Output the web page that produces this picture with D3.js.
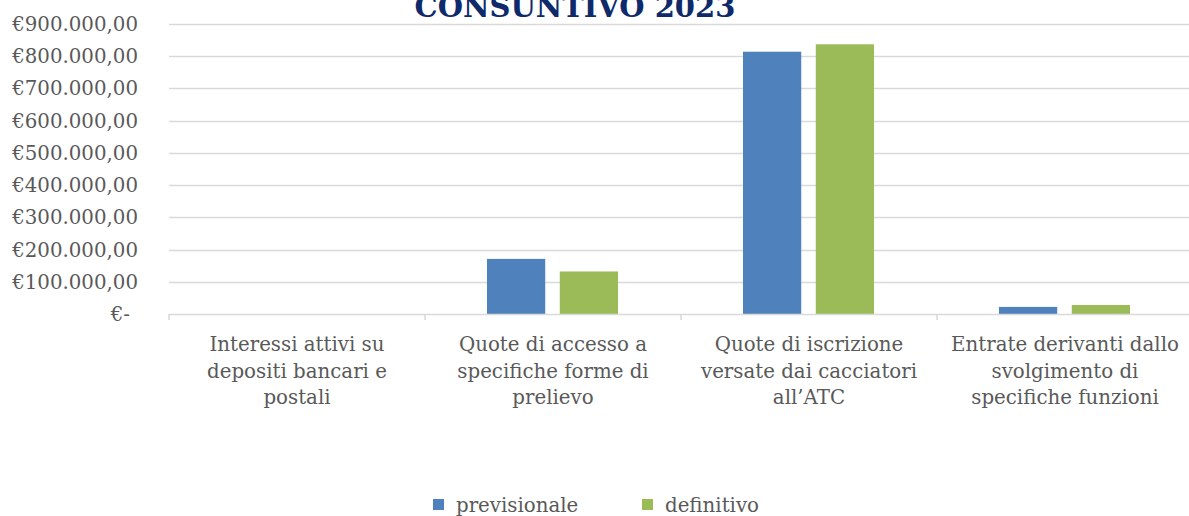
<!DOCTYPE html>
<html>
<head>
<meta charset="utf-8">
<script src="https://cdn.jsdelivr.net/npm/d3@7"></script>
<style>
  body { margin: 0; background: #fff; }
  svg { display: block; }
  text { font-family: "DejaVu Serif", "Liberation Serif", serif; }
</style>
</head>
<body>
<div id="chart"></div>
<script>
var categories = [
    ["Interessi attivi su", "depositi bancari e", "postali"],
    ["Quote di accesso a", "specifiche forme di", "prelievo"],
    ["Quote di iscrizione", "versate dai cacciatori", "all\u2019ATC"],
    ["Entrate derivanti dallo", "svolgimento di", "specifiche funzioni"]
];
var series = ["previsionale", "definitivo"];
var previsionale = [0, 171000, 814000, 22000];
var definitivo = [0, 132000, 837000, 28000];
var yTicks = [0, 100000, 200000, 300000, 400000, 500000, 600000, 700000, 800000, 900000];
var colors = ["#4f81bd", "#9bbb59"];
var title = "CONSUNTIVO 2023";

var width = 1189, height = 516;
var svg = d3.select("#chart").append("svg")
    .attr("width", width)
    .attr("height", height);

var catIdx = d3.range(categories.length);
var x = d3.scaleBand().domain(catIdx).range([169, 1193]);
var x1 = d3.scaleBand().domain(series).range([62, 193]).paddingInner(0.2);
var y = d3.scaleLinear().domain([0, 900000]).range([314, 24]);

var fmt = function (v) {
    if (v === 0) return "\u20ac-";
    return "\u20ac" + d3.format(",.2f")(v).replace(/,/g, "#").replace(/\./g, ",").replace(/#/g, ".");
};

// gridlines
svg.append("g")
    .selectAll("line")
    .data(yTicks.filter(function (d) { return d > 0; }))
    .enter().append("line")
    .attr("x1", 169).attr("x2", width)
    .attr("y1", function (d) { return Math.round(y(d)) + 0.5; })
    .attr("y2", function (d) { return Math.round(y(d)) + 0.5; })
    .attr("stroke", "#d9d9d9")
    .attr("stroke-width", 1.5);

// y labels
svg.append("g")
    .selectAll("text")
    .data(yTicks)
    .enter().append("text")
    .attr("x", function (d) { return d === 0 ? 130 : 138; })
    .attr("y", function (d) { return y(d) + 7; })
    .attr("text-anchor", "end")
    .attr("fill", "#595959")
    .style("font-size", "19.8px")
    .text(fmt);

// bars
var rows = catIdx.map(function (i) {
    return [{s: series[0], v: previsionale[i], c: colors[0]}, {s: series[1], v: definitivo[i], c: colors[1]}];
});
svg.append("g")
    .selectAll("g")
    .data(rows)
    .enter().append("g")
    .attr("transform", function (d, i) { return "translate(" + x(i) + ",0)"; })
    .selectAll("rect")
    .data(function (d) { return d; })
    .enter().append("rect")
    .attr("x", function (d) { return x1(d.s); })
    .attr("width", x1.bandwidth())
    .attr("y", function (d) { return y(d.v); })
    .attr("height", function (d) { return y(0) - y(d.v); })
    .attr("fill", function (d) { return d.c; });

// x axis
var xAxis = svg.append("g");
xAxis.append("line")
    .attr("x1", 169).attr("x2", width)
    .attr("y1", 314.5).attr("y2", 314.5)
    .attr("stroke", "#d9d9d9").attr("stroke-width", 1.5);
xAxis.selectAll(".tk")
    .data(d3.range(categories.length + 1))
    .enter().append("line")
    .attr("class", "tk")
    .attr("x1", function (i) { return 169 + i * x.bandwidth(); })
    .attr("x2", function (i) { return 169 + i * x.bandwidth(); })
    .attr("y1", 314).attr("y2", 320)
    .attr("stroke", "#d9d9d9").attr("stroke-width", 1.5);

xAxis.selectAll(".cat")
    .data(categories)
    .enter().append("text")
    .attr("class", "cat")
    .attr("text-anchor", "middle")
    .attr("fill", "#595959")
    .style("font-size", "19.8px")
    .each(function (d, i) {
        var t = d3.select(this);
        d.forEach(function (line, j) {
            t.append("tspan")
                .attr("x", x(i) + x.bandwidth() / 2)
                .attr("y", 351 + j * 26.5)
                .text(line);
        });
    });

// title
svg.append("text")
    .attr("x", 575)
    .attr("y", 17)
    .attr("text-anchor", "middle")
    .attr("fill", "#0e2a6b")
    .style("font-size", "29px")
    .style("font-weight", "bold")
    .text(title);

// legend
var legendX = [433, 642];
var lg = svg.append("g")
    .selectAll("g")
    .data(series)
    .enter().append("g")
    .attr("transform", function (d, i) { return "translate(" + legendX[i] + ",499)"; });
lg.append("rect")
    .attr("width", 11).attr("height", 11)
    .attr("fill", function (d, i) { return colors[i]; });
lg.append("text")
    .attr("x", 23).attr("y", 13)
    .attr("fill", "#595959")
    .style("font-size", "19.8px")
    .text(function (d) { return d; });
</script>
</body>
</html>
